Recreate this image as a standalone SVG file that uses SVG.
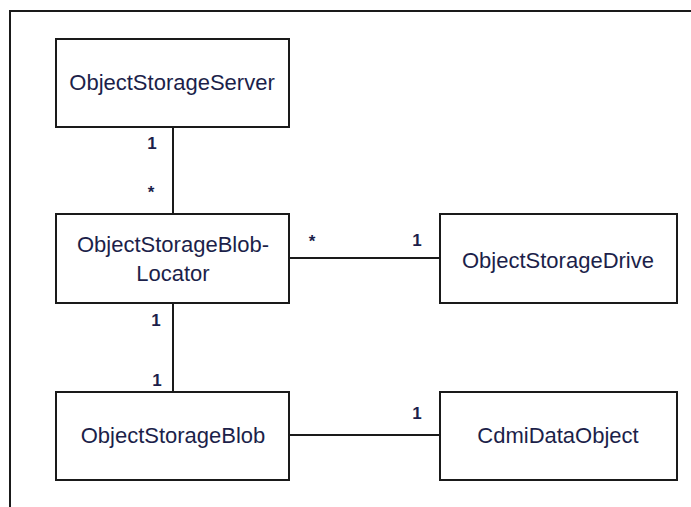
<svg xmlns="http://www.w3.org/2000/svg" width="691" height="507" viewBox="0 0 691 507">
  <style>
    .box { fill: #ffffff; stroke: #1a1a1a; stroke-width: 2; }
    .conn { stroke: #1a1a1a; stroke-width: 2; fill: none; }
    .frame { stroke: #1a1a1a; stroke-width: 2; fill: none; }
    .name { font-family: "Liberation Sans", Arial, sans-serif; font-size: 22px; fill: #1c1f4a; text-anchor: middle; }
    .mult { font-family: "Liberation Sans", Arial, sans-serif; font-size: 17px; font-weight: bold; fill: #1c1f4a; text-anchor: middle; }
  </style>
  <rect width="691" height="507" fill="#ffffff"/>

  <!-- outer frame (left and top edges only) -->
  <path class="frame" d="M10,507 V11 H691"/>

  <!-- connectors -->
  <g id="connectors">
    <line class="conn" x1="173" y1="127" x2="173" y2="214"/>
    <line class="conn" x1="173" y1="303" x2="173" y2="392"/>
    <line class="conn" x1="289" y1="258" x2="440" y2="258"/>
    <line class="conn" x1="289" y1="435" x2="440" y2="435"/>
    <text class="mult" x="152" y="149">1</text>
    <text class="mult" x="151" y="198">*</text>
    <text class="mult" x="156" y="326">1</text>
    <text class="mult" x="157" y="386">1</text>
    <text class="mult" x="312" y="247">*</text>
    <text class="mult" x="417" y="246">1</text>
    <text class="mult" x="417" y="419">1</text>
  </g>

  <g id="server">
    <rect class="box" x="56" y="39" width="233" height="88"/>
    <text class="name" x="172" y="90">ObjectStorageServer</text>
  </g>

  <g id="locator">
    <rect class="box" x="56" y="214" width="233" height="89"/>
    <text class="name" x="173" y="252">ObjectStorageBlob-</text>
    <text class="name" x="173" y="281">Locator</text>
  </g>

  <g id="drive">
    <rect class="box" x="440" y="214" width="237" height="89"/>
    <text class="name" x="558" y="268">ObjectStorageDrive</text>
  </g>

  <g id="blob">
    <rect class="box" x="56" y="392" width="233" height="88"/>
    <text class="name" x="173" y="443">ObjectStorageBlob</text>
  </g>

  <g id="cdmi">
    <rect class="box" x="440" y="392" width="237" height="88"/>
    <text class="name" x="558" y="443">CdmiDataObject</text>
  </g>
</svg>
